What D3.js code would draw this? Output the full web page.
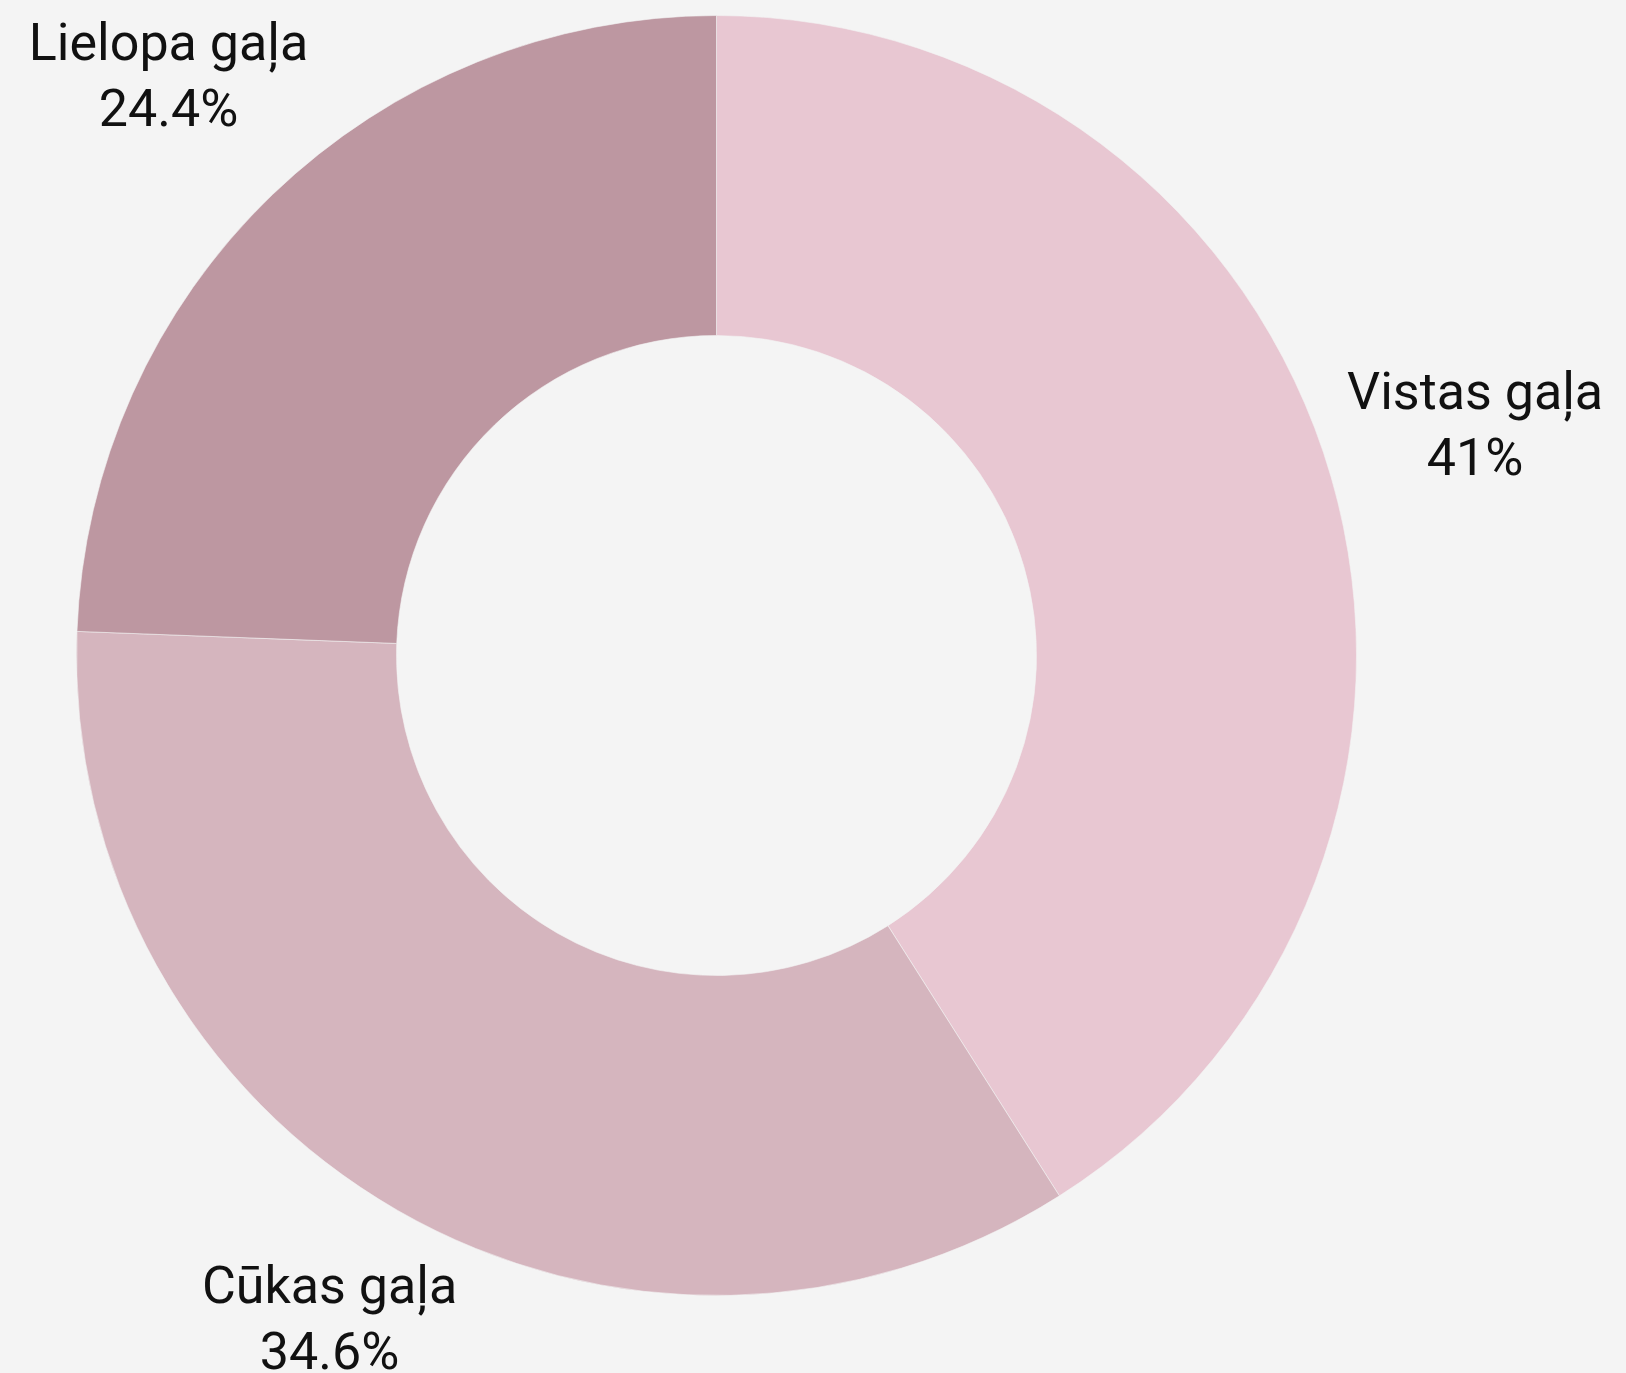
<html>
    <head>
        <meta charset="utf-8">
        <script src="https://d3js.org/d3.v7.min.js"></script>
        <style>
            body { margin: 0; background: #f4f4f4; }
        </style>
    </head>
    <body>
        <svg id="chart" width="1626" height="1373"></svg>
        <script>
            // data
            const categories = ['Vistas gaļa', 'Cūkas gaļa', 'Lielopa gaļa'];
            const shares = [41, 34.6, 24.4];
            const shareLabels = ['41%', '34.6%', '24.4%'];
            const colors = ['#e8c7d2', '#d5b5be', '#bd97a1'];

            const data = categories.map((c, i) => ({name: c, value: shares[i], label: shareLabels[i]}));

            const svg = d3.select('svg#chart');
            const width = +svg.attr('width');
            const height = +svg.attr('height');
            const cx = 716.5, cy = 655.5;
            const outerR = 640, innerR = 320, labelR = 790;

            const pie = d3.pie().value(d => d.value).sort(null);
            const arc = d3.arc().innerRadius(innerR).outerRadius(outerR);
            const labelArc = d3.arc().innerRadius(labelR).outerRadius(labelR);
            const color = d3.scaleOrdinal().domain(categories).range(colors);

            const g = svg.append('g').attr('transform', `translate(${cx},${cy})`);

            g.selectAll('path')
                .data(pie(data))
                .join('path')
                .attr('d', arc)
                .attr('fill', d => color(d.data.name))
                .attr('stroke', '#f4f4f4')
                .attr('stroke-opacity', 0.6)
                .attr('stroke-width', 1);

            // two line labels, pulled in if the second line would fall off the bottom
            const labels = g.selectAll('text')
                .data(pie(data))
                .join('text')
                .attr('transform', d => {
                    let [x, y] = labelArc.centroid(d);
                    const maxY = height - cy - 44;
                    if (y > maxY) { x = x * maxY / y; y = maxY; }
                    return `translate(${x},${y})`;
                })
                .attr('text-anchor', 'middle')
                .style('font-family', 'Roboto, "Noto Sans", sans-serif')
                .style('font-size', '52px')
                .style('fill', '#111');

            labels.append('tspan')
                .attr('x', 0)
                .attr('y', -26)
                .text(d => d.data.name);
            labels.append('tspan')
                .attr('x', 0)
                .attr('y', 40)
                .text(d => d.data.label);
        </script>
    </body>
</html>
